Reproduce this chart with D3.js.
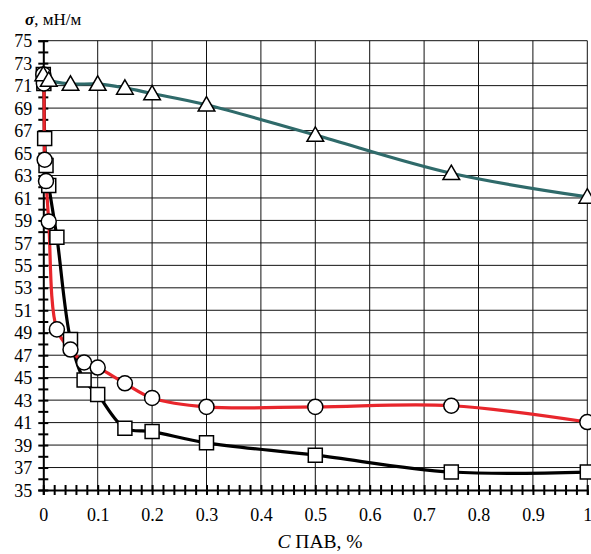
<!DOCTYPE html>
<html>
<head>
<meta charset="utf-8">
<script src="https://cdn.jsdelivr.net/npm/d3@7"></script>
<style>
  body { margin: 0; background: #fff; }
  svg { display: block; }
  svg text { fill: #000; }
</style>
</head>
<body>
<svg id="chart" width="591" height="554"></svg>
<script>
//^^^^^^^^^^^^^^^^^^^^^^^^^^^^^^^^^^^^^^^^^^^^^^^^^^^^^^^^^^^^^^^^^^^^^^^^^^^^^^
// Data: C (%) and surface tension sigma (mN/m)
//------------------------------------------------------------------------------
var xMajorTicks = [0, 0.1, 0.2, 0.3, 0.4, 0.5, 0.6, 0.7, 0.8, 0.9, 1];
var xTickLabels = ["0", "0.1", "0.2", "0.3", "0.4", "0.5", "0.6", "0.7", "0.8", "0.9", "1"];
var yTickLabels = [35, 37, 39, 41, 43, 45, 47, 49, 51, 53, 55, 57, 59, 61, 63, 65, 67, 69, 71, 73, 75];

var concSquares = [0, 0.001, 0.0025, 0.005, 0.01, 0.025, 0.05, 0.075, 0.1, 0.15, 0.2, 0.3, 0.5, 0.75, 1];
var sigmaSquares = [72.0, 71.2, 66.3, 63.9, 62.1, 57.5, 48.4, 44.8, 43.5, 40.5, 40.2, 39.2, 38.1, 36.6, 36.6];

var concCircles = [0, 0.001, 0.0025, 0.005, 0.01, 0.025, 0.05, 0.075, 0.1, 0.15, 0.2, 0.3, 0.5, 0.75, 1];
var sigmaCircles = [72.0, 71.2, 64.4, 62.5, 58.9, 49.3, 47.5, 46.35, 45.9, 44.5, 43.2, 42.4, 42.4, 42.5, 41.05];

var concTriangles = [0, 0.01, 0.05, 0.1, 0.15, 0.2, 0.3, 0.5, 0.75, 1];
var sigmaTriangles = [72.0, 71.5, 71.15, 71.15, 70.8, 70.3, 69.3, 66.6, 63.2, 61.1];

var serif = "'Liberation Serif', 'DejaVu Serif', serif";

var svg = d3.select("#chart");

var x = d3.scaleLinear().domain([0, 1]).range([43.3, 587.3]),
    y = d3.scaleLinear().domain([35, 75]).range([490, 40.7]);

//^^^^^^^^^^^^^^^^^^^^^^^^^^^^^^^^^^^^^^^^^^^^^^^^^^^^^^^^^^^^^^^^^^^^^^^^^^^^^^
// Grid
//------------------------------------------------------------------------------
var grid = svg.append("g").attr("class", "grid");

grid.selectAll("line.v")
    .data(xMajorTicks.slice(1))
    .enter().append("line")
    .attr("class", "v")
    .attr("x1", function(d) { return x(d); })
    .attr("x2", function(d) { return x(d); })
    .attr("y1", y(75))
    .attr("y2", y(35))
    .attr("stroke", "#111")
    .attr("stroke-width", 1);

grid.selectAll("line.h")
    .data(yTickLabels.slice(1))
    .enter().append("line")
    .attr("class", "h")
    .attr("x1", x(0))
    .attr("x2", x(1))
    .attr("y1", function(d) { return y(d); })
    .attr("y2", function(d) { return y(d); })
    .attr("stroke", "#111")
    .attr("stroke-width", 1);

//^^^^^^^^^^^^^^^^^^^^^^^^^^^^^^^^^^^^^^^^^^^^^^^^^^^^^^^^^^^^^^^^^^^^^^^^^^^^^^
// Axes: ticks cross the axis line, labels only on the major ticks
//------------------------------------------------------------------------------
var xAxis = d3.axisBottom(x)
    .tickValues(d3.range(0, 51).map(function(i) { return i / 50; }))
    .tickSizeOuter(0)
    .tickSize(5)
    .tickPadding(0)
    .tickFormat(function(d) {
        var i = xMajorTicks.findIndex(function(t) { return Math.abs(t - d) < 1e-9; });
        return i >= 0 ? xTickLabels[i] : "";
    });

var gx = svg.append("g")
    .attr("transform", "translate(0," + y(35) + ")")
    .call(xAxis)
    .attr("font-family", serif)
    .attr("font-size", 18);

gx.select(".domain").attr("stroke", "#000").attr("stroke-width", 2);
gx.selectAll(".tick line").attr("y1", -5).attr("y2", 5).attr("stroke", "#000").attr("stroke-width", 2);
gx.selectAll(".tick text")
    .attr("y", 30.7)
    .attr("dy", 0);

var yAxis = d3.axisLeft(y)
    .tickValues(d3.range(35, 76))
    .tickSizeOuter(0)
    .tickSize(5)
    .tickFormat(function(d) { return yTickLabels.indexOf(d) >= 0 ? String(d) : ""; });

var gy = svg.append("g")
    .attr("transform", "translate(" + x(0) + ",0)")
    .call(yAxis)
    .attr("font-family", serif)
    .attr("font-size", 18);

gy.select(".domain").attr("stroke", "#000").attr("stroke-width", 2);
gy.selectAll(".tick line").attr("x1", -5).attr("x2", 5).attr("stroke", "#000").attr("stroke-width", 2);
gy.selectAll(".tick text")
    .attr("x", -11)
    .attr("dy", "0.34em");

//^^^^^^^^^^^^^^^^^^^^^^^^^^^^^^^^^^^^^^^^^^^^^^^^^^^^^^^^^^^^^^^^^^^^^^^^^^^^^^
// Titles
//------------------------------------------------------------------------------
var yTitle = svg.append("text")
    .attr("x", 25)
    .attr("y", 25)
    .attr("font-family", serif)
    .attr("font-size", 17);
yTitle.append("tspan").attr("font-weight", "bold").attr("font-style", "italic").text("σ");
yTitle.append("tspan").text(", мН/м");

var xTitle = svg.append("text")
    .attr("x", 320)
    .attr("y", 548)
    .attr("text-anchor", "middle")
    .attr("font-family", serif)
    .attr("font-size", 19.5);
xTitle.append("tspan").attr("font-style", "italic").text("C");
xTitle.append("tspan").text(" ПАВ, %");

//^^^^^^^^^^^^^^^^^^^^^^^^^^^^^^^^^^^^^^^^^^^^^^^^^^^^^^^^^^^^^^^^^^^^^^^^^^^^^^
// Series: smoothed line plus hollow markers
//------------------------------------------------------------------------------
var line = d3.line()
    .x(function(d) { return x(d[0]); })
    .y(function(d) { return y(d[1]); })
    .curve(d3.curveCatmullRom.alpha(0.5));

function zip(xs, ys) {
    return xs.map(function(v, i) { return [v, ys[i]]; });
}

var series = [
    { name: "squares", data: zip(concSquares, sigmaSquares), color: "#000", symbol: d3.symbolSquare, size: 196 },
    { name: "circles", data: zip(concCircles, sigmaCircles), color: "#e8262c", symbol: d3.symbolCircle, size: 177 },
    { name: "triangles", data: zip(concTriangles, sigmaTriangles), color: "#2f6a6a", symbol: d3.symbolTriangle, size: 120 }
];

series.forEach(function(s) {
    svg.append("path")
        .datum(s.data)
        .attr("class", "line-" + s.name)
        .attr("fill", "none")
        .attr("stroke", s.color)
        .attr("stroke-width", 3.2)
        .attr("d", line);
});

series.forEach(function(s) {
    var sym = d3.symbol().type(s.symbol).size(s.size);
    svg.append("g")
        .attr("class", "marks-" + s.name)
        .selectAll("path")
        .data(s.data)
        .enter().append("path")
        .attr("transform", function(d) {
            var dy = s.symbol === d3.symbolTriangle ? 1.5 : 0;
            return "translate(" + x(d[0]) + "," + (y(d[1]) + dy) + ")";
        })
        .attr("d", sym)
        .attr("fill", "#fff")
        .attr("stroke", "#000")
        .attr("stroke-width", 1.5);
});
</script>
</body>
</html>
